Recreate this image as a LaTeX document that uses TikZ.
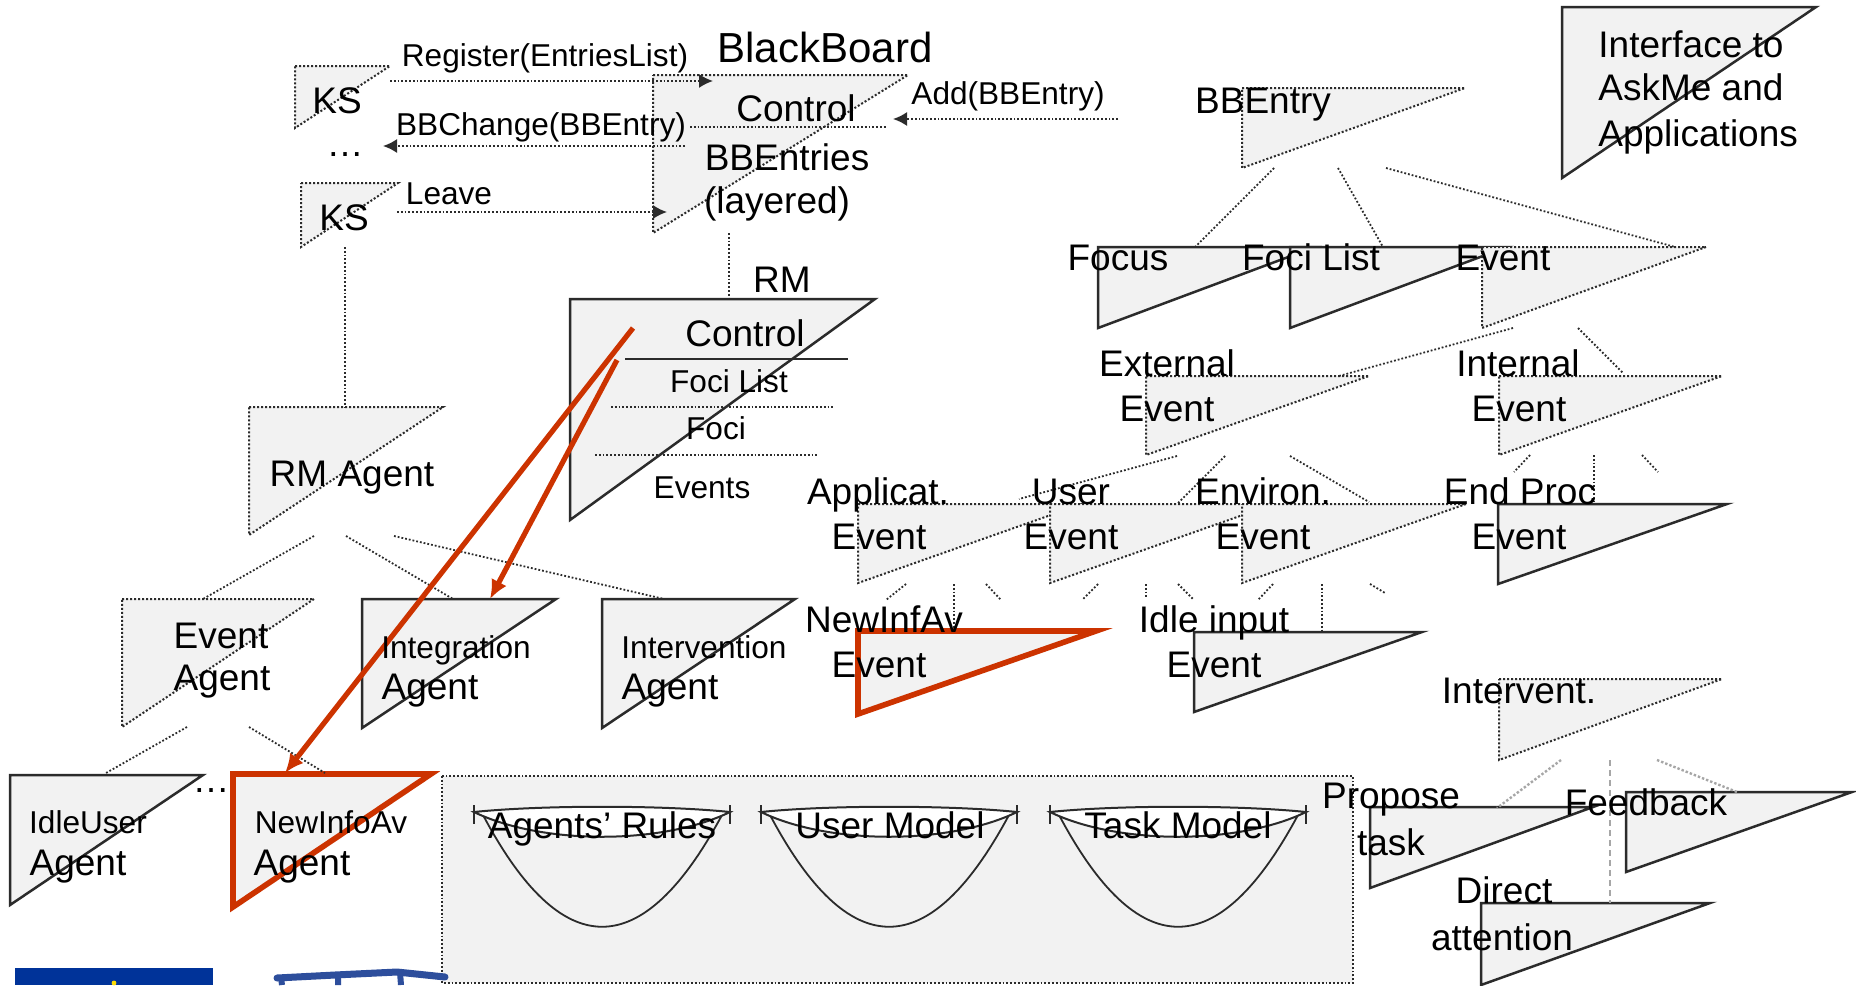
\documentclass[tikz,border=0pt]{standalone}
\usepackage{fontspec}
\setmainfont{Liberation Sans}
\usetikzlibrary{arrows.meta}
\definecolor{boxfill}{HTML}{F2F2F2}
\definecolor{linec}{HTML}{2B2B2B}
\definecolor{redc}{HTML}{CC3300}
\definecolor{eublue}{HTML}{003399}
\definecolor{logoblue}{HTML}{2D4E9C}
\newcommand\mytri[6]{\path[#2] (#3,#4) coordinate (#1) -- ++(#5,0) -- (#3,#4+#6) -- cycle;}
\newcommand\mybowl[2]{%
  \draw[linec, line width=0.9pt] (#1-119,815) .. controls (#1-40,964) and (#1+40,964) .. (#1+120,815);
  \draw[linec, line width=1pt, fill=white] (#1-128,812) .. controls (#1-60,805) and (#1+60,805) .. (#1+128,812)
        .. controls (#1+60,845) and (#1-60,845) .. cycle;
  \draw[linec, line width=1pt] (#1-128,805) -- (#1-128,824) (#1+128,805) -- (#1+128,824);
  \coordinate (#2) at (#1,825);
}
\tikzset{
  big/.style={font=\fontsize{18.5}{22}\selectfont, inner sep=0pt, text height=13.25pt, text depth=0pt},
  small/.style={font=\fontsize{15.8}{19}\selectfont, inner sep=0pt, text height=11.3pt, text depth=0pt},
  huge/.style={font=\fontsize{21}{25}\selectfont, inner sep=0pt, text height=15pt, text depth=0pt},
  dtri/.style={fill=boxfill, draw=linec, densely dotted, line width=1pt},
  stri/.style={fill=boxfill, draw=linec, line width=1.25pt, line join=miter},
  rtri/.style={fill=boxfill, draw=redc, line width=2.8pt, line join=miter},
  conn/.style={draw=linec, densely dotted, line width=0.9pt},
  gconn/.style={draw=gray!70, densely dotted, line width=1.2pt},
  arr/.style={conn, -{Latex[length=7pt,width=7pt]}},
  redarr/.style={draw=redc, line width=2.6pt, -{Latex[length=9.5pt,width=8.5pt]}},
}
\begin{document}
\begin{tikzpicture}[x=0.5pt, y=-0.5pt]
\useasboundingbox (0,0) rectangle (1856,985);
\fill[white] (0,0) rectangle (1856,985);

% ---------- bottom box with knowledge bases
\path[fill=boxfill, draw=linec, densely dotted, line width=0.9pt] (442,776) rectangle (1353,983);
\mybowl{602}{arbowl}
\mybowl{889}{umbowl}
\mybowl{1178}{tmbowl}
\node[big] (ar) at (602,825) {Agents’ Rules};
\node[big] (um) at (890,825) {User Model};
\node[big] (tm) at (1178,825) {Task Model};

% ---------- triangles
\mytri{ks1}{dtri}{295}{66}{95}{62}
\mytri{ks2}{dtri}{301}{183}{97}{64}
\mytri{bb}{dtri}{653}{75}{255}{158}
\mytri{bbentry}{dtri}{1242}{88}{223}{80}
\mytri{iface}{stri}{1562}{7}{254}{171}
\mytri{focus}{stri}{1098}{247}{217}{81}
\mytri{focilist}{stri}{1290}{247}{217}{81}
\mytri{event}{dtri}{1482}{247}{224}{81}
\mytri{rm}{stri}{570}{299}{305}{221}
\mytri{rmagent}{dtri}{249}{407}{194}{128}
\mytri{extev}{dtri}{1146}{376}{223}{79}
\mytri{intev}{dtri}{1499}{376}{223}{79}
\mytri{appev}{dtri}{858}{504}{224}{79}
\mytri{userev}{dtri}{1050}{504}{224}{79}
\mytri{envev}{dtri}{1242}{504}{224}{79}
\mytri{endev}{stri}{1498}{504}{229}{80}
\mytri{eventagent}{dtri}{122}{599}{192}{128}
\mytri{integ}{stri}{362}{599}{194}{129}
\mytri{interv}{stri}{602}{599}{193}{129}
\mytri{newinfev}{rtri}{858}{631}{238}{83}
\mytri{idleev}{stri}{1194}{632}{228}{80}
\mytri{intervent}{dtri}{1499}{679}{223}{81}
\mytri{idleuser}{stri}{10}{775}{193}{130}
\mytri{newinfoag}{rtri}{233}{774}{198}{133}
\mytri{propose}{stri}{1370}{807}{223}{81}
\mytri{feedback}{stri}{1626}{792}{226}{80}
\mytri{direct}{stri}{1481}{903}{229}{82}

% ---------- internal separators
\draw[conn] (690,127) coordinate (bbsepA) -- (887,127) coordinate (bbsepB);
\draw[linec, line width=1.1pt] (625,359) coordinate (rmsepA) -- (848,359) coordinate (rmsepB);
\draw[conn] (611,407) coordinate (rmsepC) -- (834,407) coordinate (rmsepD);
\draw[conn] (595,455) coordinate (rmsepE) -- (818,455) coordinate (rmsepF);

% ---------- arrows of the blackboard protocol
\coordinate (regS) at (390,81);   \coordinate (regE) at (713,81);
\coordinate (chgS) at (685,146);  \coordinate (chgE) at (383,146);
\coordinate (lvS) at (397,212);   \coordinate (lvE) at (667,212);
\coordinate (addS) at (1118,119); \coordinate (addE) at (893,119);
\draw[arr] (regS) -- (regE);
\draw[arr] (chgS) -- (chgE);
\draw[arr] (lvS) -- (lvE);
\draw[arr] (addS) -- (addE);

% ---------- tree connectors
\draw[conn] (345,247) coordinate (c1a) -- (345,407) coordinate (c1b);
\draw[conn] (729,233) coordinate (c2a) -- (729,299) coordinate (c2b);
\draw[conn] (1274,168) coordinate (c3a) -- (1195,247) coordinate (c3b);
\draw[conn] (1338,168) coordinate (c4a) -- (1383,247) coordinate (c4b);
\draw[conn] (1386,168) coordinate (c5a) -- (1675,247) coordinate (c5b);
\draw[conn] (1513,328) coordinate (c6a) -- (1339,376) coordinate (c6b);
\draw[conn] (1578,328) coordinate (c7a) -- (1623,373) coordinate (c7b);
\draw[conn] (1177,456) coordinate (c8a) -- (1019,499) coordinate (c8b);
\draw[conn] (1225,456) coordinate (c9a) -- (1178,503) coordinate (c9b);
\draw[conn] (1290,456) coordinate (c10a) -- (1369,502) coordinate (c10b);
\draw[conn] (1530,455) coordinate (s1a) -- (1514,472) coordinate (s1b);
\draw[conn] (1594,455) coordinate (s2a) -- (1594,503) coordinate (s2b);
\draw[conn] (1642,455) coordinate (s3a) -- (1658,472) coordinate (s3b);
\draw[conn] (906,584) coordinate (s4a) -- (886,600) coordinate (s4b);
\draw[conn] (954,584) coordinate (s5a) -- (954,631) coordinate (s5b);
\draw[conn] (986,584) coordinate (s6a) -- (1001,600) coordinate (s6b);
\draw[conn] (1098,584) coordinate (s7a) -- (1082,600) coordinate (s7b);
\draw[conn] (1146,584) coordinate (s8a) -- (1146,597) coordinate (s8b);
\draw[conn] (1178,584) coordinate (s9a) -- (1194,600) coordinate (s9b);
\draw[conn] (1273,584) coordinate (s10a) -- (1258,600) coordinate (s10b);
\draw[conn] (1322,584) coordinate (s11a) -- (1322,632) coordinate (s11b);
\draw[conn] (1370,584) coordinate (s12a) -- (1385,593) coordinate (s12b);
\draw[conn] (314,536) coordinate (c11a) -- (203,599) coordinate (c11b);
\draw[conn] (346,536) coordinate (c12a) -- (453,599) coordinate (c12b);
\draw[conn] (394,536) coordinate (c13a) -- (664,599) coordinate (c13b);
\draw[conn] (187,727) coordinate (c14a) -- (106,773) coordinate (c14b);
\draw[conn] (249,727) coordinate (c15a) -- (325,773) coordinate (c15b);
\draw[gconn] (1561,760) coordinate (c16a) -- (1497,808) coordinate (c16b);
\draw[gconn, densely dashed, line width=0.9pt] (1610,760) coordinate (c17a) -- (1610,903) coordinate (c17b);
\draw[gconn] (1657,760) coordinate (c18a) -- (1737,792) coordinate (c18b);

% ---------- red arrows
\coordinate (redA) at (633,328); \coordinate (redAe) at (285,773);
\coordinate (redB) at (617,360); \coordinate (redBe) at (490,599);
\draw[redarr] (redA) -- (redAe);
\draw[redarr] (redB) -- (redBe);

% ---------- texts
\node[big] (ks1t) at (337,100) {KS};
\node[big] (ks2t) at (344,217) {KS};
\node[big, anchor=base, text height=, text depth=] (dots1) at (345,156) {…};
\node[small] (regt) at (545,55) {Register(EntriesList)};
\node[small] (chgt) at (541,124) {BBChange(BBEntry)};
\node[small] (lvt) at (449,193) {Leave};
\node[huge] (bbtitle) at (825,47) {BlackBoard};
\node[big] (bbctl) at (796,108) {Control};
\node[big] (bbent) at (787,157) {BBEntries};
\node[big] (bblay) at (777,200) {(layered)};
\node[small] (addt) at (1008,93) {Add(BBEntry)};
\node[big] (bbentryt) at (1263,100) {BBEntry};
\node[big, anchor=west] (if1) at (1598,44) {Interface to};
\node[big, anchor=west] (if2) at (1598,87) {AskMe and};
\node[big, anchor=west] (if3) at (1598,133) {Applications};
\node[big] (focust) at (1118,257) {Focus};
\node[big] (focilt) at (1311,257) {Foci List};
\node[big] (eventt) at (1503,257) {Event};
\node[big] (rmt) at (782,279) {RM};
\node[big] (rmctl) at (745,333) {Control};
\node[small] (rmfl) at (729,381) {Foci List};
\node[small] (rmfoci) at (716,428) {Foci};
\node[small] (rmev) at (702,487) {Events};
\node[big] (rmagt) at (352,473) {RM Agent};
\node[big] (ext1) at (1167,363) {External};
\node[big] (ext2) at (1167,408) {Event};
\node[big] (int1) at (1518,363) {Internal};
\node[big] (int2) at (1519,408) {Event};
\node[big] (app1) at (878,491) {Applicat.};
\node[big] (app2) at (879,536) {Event};
\node[big] (usr1) at (1071,491) {User};
\node[big] (usr2) at (1071,536) {Event};
\node[big] (env1) at (1263,491) {Environ.};
\node[big] (env2) at (1263,536) {Event};
\node[big] (end1) at (1520,491) {End Proc};
\node[big] (end2) at (1519,536) {Event};
\node[big] (nia1) at (884,619) {NewInfAv};
\node[big] (nia2) at (879,664) {Event};
\node[big] (idl1) at (1214,619) {Idle input};
\node[big] (idl2) at (1214,664) {Event};
\node[big] (ivt) at (1519,690) {Intervent.};
\node[big] (ea1) at (221,635) {Event};
\node[big] (ea2) at (222,677) {Agent};
\node[small] (ig1) at (456,647) {Integration};
\node[big] (ig2) at (430,686) {Agent};
\node[small] (iv1) at (704,647) {Intervention};
\node[big] (iv2) at (670,686) {Agent};
\node[small] (iu1) at (88,822) {IdleUser};
\node[big] (iu2) at (78,862) {Agent};
\node[small] (ni1) at (331,822) {NewInfoAv};
\node[big] (ni2) at (302,862) {Agent};
\node[big, anchor=base, text height=, text depth=] (dots2) at (211,792) {…};
\node[big] (pr1) at (1391,795) {Propose};
\node[big] (pr2) at (1391,842) {task};
\node[big] (fb) at (1646,802) {Feedback};
\node[big] (da1) at (1504,890) {Direct};
\node[big] (da2) at (1502,937) {attention};

% ---------- logos (cut off at bottom)
\fill[eublue] (15,968) rectangle (213,985);
\fill[yellow!80!orange] (114,983) circle (1.2pt);
\draw[logoblue, line width=3.5pt, line cap=round] (277,978) -- (335,975) -- (397,972) -- (445,977);
\draw[logoblue, line width=3pt] (281,977) -- (282,985) (338,975) -- (338,985) (400,972) -- (401,985);
\end{tikzpicture}
\end{document}
